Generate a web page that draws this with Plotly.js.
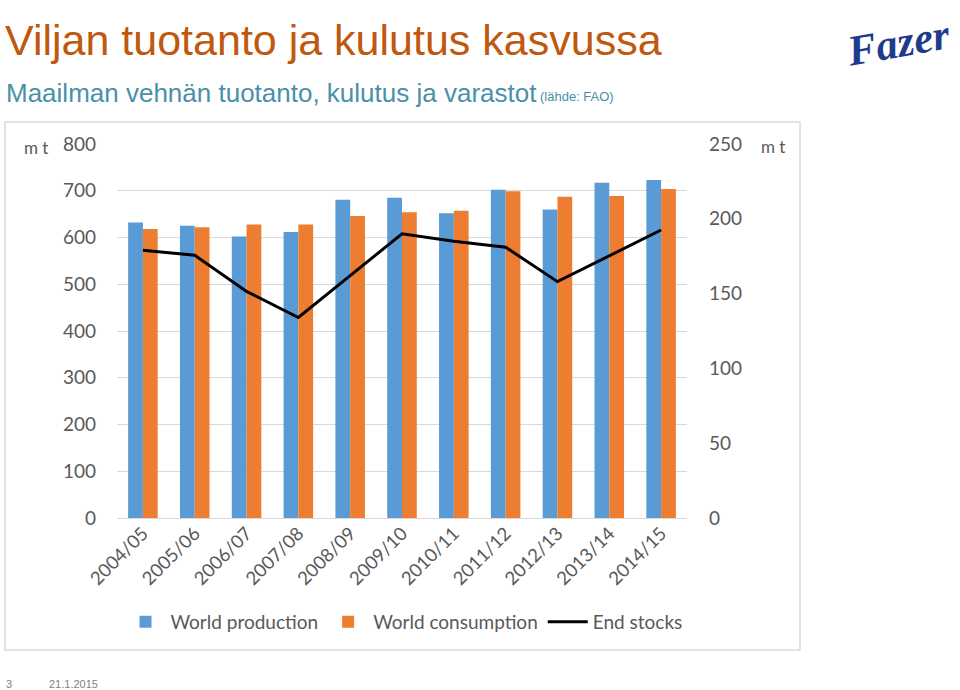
<!DOCTYPE html>
<html>
<head>
<meta charset="utf-8">
<script src="https://cdn.plot.ly/plotly-3.0.1.min.js"></script>
<style>
html,body{margin:0;padding:0;background:#fff;}
#chart{width:960px;height:690px;}
</style>
</head>
<body>
<div id="chart"></div>
<script>
// ---- data ----
const seasons = ["2004/05","2005/06","2006/07","2007/08","2008/09","2009/10","2010/11","2011/12","2012/13","2013/14","2014/15"];
const worldProduction = [632, 625, 602, 612, 681, 685, 652, 702, 660, 717, 723];
const worldConsumption = [618, 622, 628, 628, 646, 654, 657, 699, 687, 689, 704];
const endStocks = [179, 175.6, 151.5, 134, 162, 190, 185, 181, 158, 175.5, 192.5];
const leftTicks = [0,100,200,300,400,500,600,700,800];
const rightTicks = [0,50,100,150,200,250];

// pixel -> paper helpers (plot area: x 117..687, y 144..518)
const PX = x => (x - 117) / 570;
const PY = y => (518 - y) / 374;

const tickFont = {family: "Lato, 'Open Sans', sans-serif", size: 19, color: "#595959"};
const xTickFont = {family: "Lato, 'Open Sans', sans-serif", size: 18.5, color: "#595959"};

const traces = [
  {type: "bar", name: "World production", x: seasons, y: worldProduction,
   marker: {color: "#5B9BD5"}, yaxis: "y"},
  {type: "bar", name: "World consumption", x: seasons, y: worldConsumption,
   marker: {color: "#ED7D31"}, yaxis: "y"},
  {type: "scatter", mode: "lines", name: "End stocks", x: seasons, y: endStocks,
   line: {color: "#000000", width: 3}, yaxis: "y2"}
];

const layout = {
  width: 960, height: 690,
  margin: {l: 117, r: 273, t: 144, b: 172},
  paper_bgcolor: "#ffffff", plot_bgcolor: "#ffffff",
  barmode: "group", bargap: 0.43, bargroupgap: 0,
  showlegend: true,
  legend: {orientation: "h", x: PX(404), xanchor: "center", y: PY(622), yanchor: "middle",
           font: {family: "Lato, 'Open Sans', sans-serif", size: 19, color: "#595959"},
           itemwidth: 40, traceorder: "normal"},
  xaxis: {type: "category", tickangle: -45, tickfont: xTickFont, showgrid: false,
          zeroline: false, showline: false, ticks: "", automargin: false},
  yaxis: {range: [0, 800], tickvals: leftTicks, tickfont: tickFont, showgrid: true,
          gridcolor: "#D9D9D9", gridwidth: 1, zeroline: true, zerolinecolor: "#D9D9D9",
          showline: false, ticks: "", ticklabelstandoff: 20, automargin: false, fixedrange: true},
  yaxis2: {range: [0, 250], tickvals: rightTicks, tickfont: tickFont, overlaying: "y", side: "right",
           showgrid: false, zeroline: false, showline: false, ticks: "", ticklabelstandoff: 21,
           automargin: false},
  shapes: [
    {type: "rect", xref: "paper", yref: "paper", x0: PX(5), x1: PX(800), y0: PY(650), y1: PY(122),
     line: {color: "#D9D9D9", width: 1.5}, fillcolor: "rgba(0,0,0,0)", layer: "below"}
  ],
  annotations: [
    {text: "Viljan tuotanto ja kulutus kasvussa", xref: "paper", yref: "paper",
     x: PX(3), y: PY(40), xanchor: "left", yanchor: "middle", showarrow: false,
     font: {family: "'Liberation Sans', Arial, sans-serif", size: 43, color: "#C0580F"}},
    {text: "Maailman vehnän tuotanto, kulutus ja varastot", xref: "paper", yref: "paper",
     x: PX(4), y: PY(93), xanchor: "left", yanchor: "middle", showarrow: false,
     font: {family: "'Liberation Sans', Arial, sans-serif", size: 26, color: "#4A90A8"}},
    {text: "(lähde: FAO)", xref: "paper", yref: "paper",
     x: PX(538), y: PY(97), xanchor: "left", yanchor: "middle", showarrow: false,
     font: {family: "'Liberation Sans', Arial, sans-serif", size: 13, color: "#4A90A8"}},
    {text: "<b><i>Fazer</i></b>", xref: "paper", yref: "paper",
     x: PX(898), y: PY(42), xanchor: "center", yanchor: "middle", showarrow: false, textangle: -10,
     font: {family: "'Liberation Serif', 'DejaVu Serif', serif", size: 43, color: "#1E3C8C"}},
    {text: "m t", xref: "paper", yref: "paper", x: PX(36), y: PY(147), xanchor: "center", yanchor: "middle",
     showarrow: false, font: {family: "Lato, sans-serif", size: 17, color: "#595959"}},
    {text: "m t", xref: "paper", yref: "paper", x: PX(773), y: PY(146), xanchor: "center", yanchor: "middle",
     showarrow: false, font: {family: "Lato, sans-serif", size: 17, color: "#595959"}},
    {text: "3", xref: "paper", yref: "paper", x: PX(4), y: PY(684), xanchor: "left", yanchor: "middle",
     showarrow: false, font: {family: "'Liberation Sans', Arial, sans-serif", size: 11, color: "#7F7F7F"}},
    {text: "21.1.2015", xref: "paper", yref: "paper", x: PX(47), y: PY(684), xanchor: "left", yanchor: "middle",
     showarrow: false, font: {family: "'Liberation Sans', Arial, sans-serif", size: 11, color: "#7F7F7F"}}
  ]
};

Plotly.newPlot("chart", traces, layout, {staticPlot: true, displayModeBar: false});
</script>
</body>
</html>
